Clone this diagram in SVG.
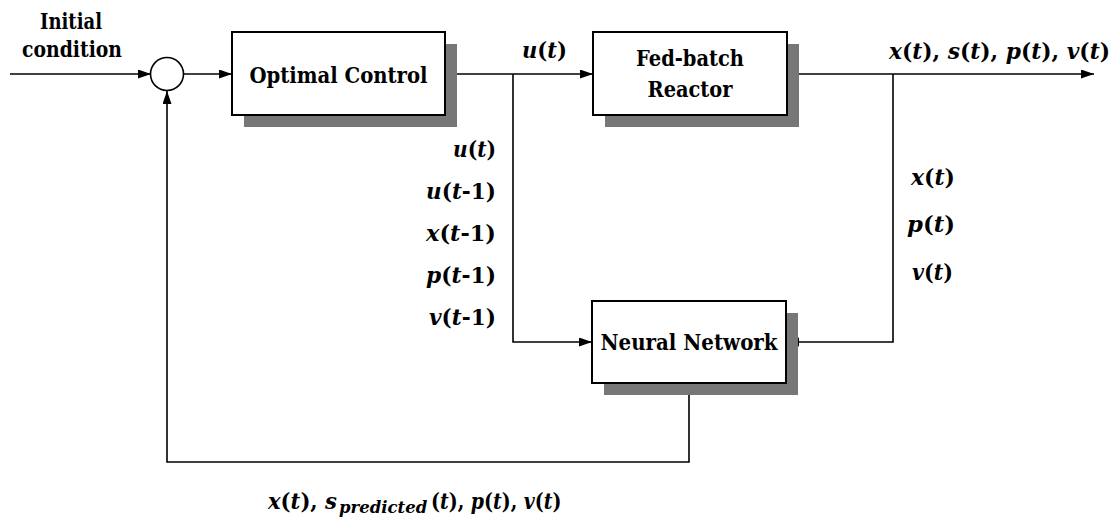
<svg xmlns="http://www.w3.org/2000/svg" width="1120" height="521" viewBox="0 0 1120 521">
<style>
.box{fill:#fff;stroke:#000;stroke-width:2}
.sh{fill:#777}
text{font-family:'DejaVu Serif',serif;font-weight:bold;fill:#000}
.lbl{font-size:23px}
.m{font-size:22px}
.sub{font-size:16.5px;font-style:italic}
.i{font-style:italic}
.c{fill:none;stroke:#000;stroke-width:1.6}
</style>
<defs>
<marker id="ah" markerUnits="userSpaceOnUse" markerWidth="14" markerHeight="10" refX="13" refY="4.5" orient="auto">
<path d="M0,0 L13,4.5 L0,9 z" fill="#000"/>
</marker>
</defs>
<g id="connectors">
<path class="c" d="M10,74 H151" marker-end="url(#ah)"/>
<path class="c" d="M183.5,74 H232" marker-end="url(#ah)"/>
<path class="c" d="M445,74 H593" marker-end="url(#ah)"/>
<path class="c" d="M787,74 H1094" marker-end="url(#ah)"/>
<path class="c" d="M513,74 V342 H592" marker-end="url(#ah)"/>
<path class="c" d="M893,74 V342 H786" marker-end="url(#ah)"/>
<path class="c" d="M689,383 V462 H167 V91" marker-end="url(#ah)"/>
</g>
<g id="initial-condition">
<text class="lbl" x="40" y="29" textLength="62" lengthAdjust="spacingAndGlyphs">Initial</text>
<text class="lbl" x="22" y="57" textLength="100" lengthAdjust="spacingAndGlyphs">condition</text>
</g>
<g id="summing-junction">
<circle cx="167" cy="74" r="16.5" fill="#fff" stroke="#000" stroke-width="1.6"/>
</g>
<g id="optimal-control">
<rect class="sh" x="244" y="44" width="213" height="83"/>
<rect class="box" x="232" y="32" width="213" height="83"/>
<text class="lbl" x="249.5" y="83" textLength="178" lengthAdjust="spacingAndGlyphs">Optimal Control</text>
</g>
<g id="fed-batch-reactor">
<rect class="sh" x="605" y="44" width="194" height="83"/>
<rect class="box" x="593" y="32" width="194" height="83"/>
<text class="lbl" x="636" y="66" textLength="108" lengthAdjust="spacingAndGlyphs">Fed-batch</text>
<text class="lbl" x="647.5" y="97" textLength="85" lengthAdjust="spacingAndGlyphs">Reactor</text>
</g>
<g id="neural-network">
<rect class="sh" x="604" y="313" width="194" height="82"/>
<rect class="box" x="592" y="301" width="194" height="82"/>
<text class="lbl" x="600.5" y="350" textLength="177" lengthAdjust="spacingAndGlyphs">Neural Network</text>
</g>
<g id="labels">
<text class="m" x="522" y="58" textLength="45" lengthAdjust="spacingAndGlyphs"><tspan class="i">u</tspan>(<tspan class="i">t</tspan>)</text>
<text class="m" x="889" y="59" textLength="221" lengthAdjust="spacingAndGlyphs"><tspan class="i">x</tspan>(<tspan class="i">t</tspan>), <tspan class="i">s</tspan>(<tspan class="i">t</tspan>), <tspan class="i">p</tspan>(<tspan class="i">t</tspan>), <tspan class="i">v</tspan>(<tspan class="i">t</tspan>)</text>
<text class="m" x="453" y="157" textLength="43" lengthAdjust="spacingAndGlyphs"><tspan class="i">u</tspan>(<tspan class="i">t</tspan>)</text>
<text class="m" x="426" y="199" textLength="70" lengthAdjust="spacingAndGlyphs"><tspan class="i">u</tspan>(<tspan class="i">t</tspan>-1)</text>
<text class="m" x="426" y="241" textLength="70" lengthAdjust="spacingAndGlyphs"><tspan class="i">x</tspan>(<tspan class="i">t</tspan>-1)</text>
<text class="m" x="426" y="283" textLength="70" lengthAdjust="spacingAndGlyphs"><tspan class="i">p</tspan>(<tspan class="i">t</tspan>-1)</text>
<text class="m" x="429" y="325" textLength="67" lengthAdjust="spacingAndGlyphs"><tspan class="i">v</tspan>(<tspan class="i">t</tspan>-1)</text>
<text class="m" x="911" y="185" textLength="44" lengthAdjust="spacingAndGlyphs"><tspan class="i">x</tspan>(<tspan class="i">t</tspan>)</text>
<text class="m" x="907" y="232" textLength="48" lengthAdjust="spacingAndGlyphs"><tspan class="i">p</tspan>(<tspan class="i">t</tspan>)</text>
<text class="m" x="912" y="280" textLength="41" lengthAdjust="spacingAndGlyphs"><tspan class="i">v</tspan>(<tspan class="i">t</tspan>)</text>
<text class="m" x="268" y="509" textLength="69" lengthAdjust="spacingAndGlyphs"><tspan class="i">x</tspan>(<tspan class="i">t</tspan>), <tspan class="i">s</tspan></text>
<text class="sub" x="339" y="513">predicted</text>
<text class="m" transform="translate(431,509) scale(0.86,1)">(<tspan class="i">t</tspan>), <tspan class="i">p</tspan>(<tspan class="i">t</tspan>), <tspan class="i">v</tspan>(<tspan class="i">t</tspan>)</text>
</g>
</svg>
